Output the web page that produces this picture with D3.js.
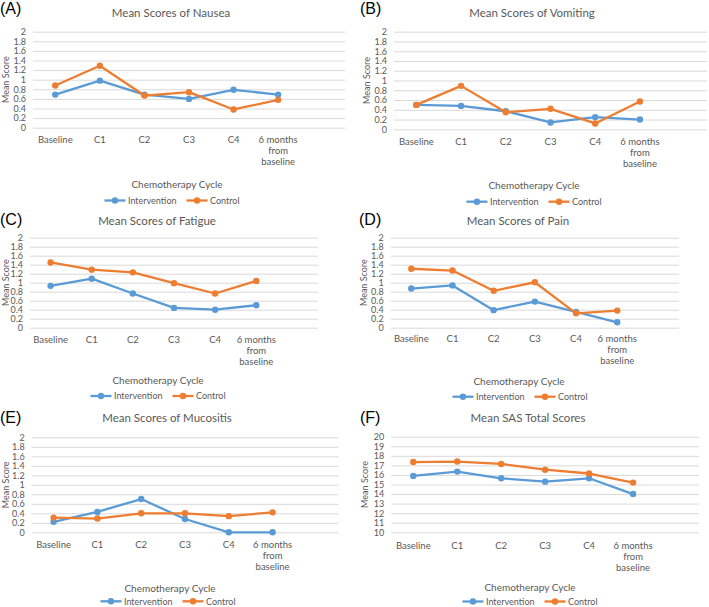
<!DOCTYPE html>
<html>
<head>
<meta charset="utf-8">
<script src="https://cdn.jsdelivr.net/npm/d3@7"></script>
<style>
  html, body { margin: 0; padding: 0; background: #fff; }
  svg { display: block; }
  text { font-family: Lato, "Open Sans", sans-serif; fill: #595959; }
  .plabel { font-family: "Liberation Sans", Arial, sans-serif; fill: #000; }
</style>
</head>
<body>
<svg id="chart" width="709" height="607"></svg>
<script>
// ---------------- DATA ----------------
const categories = ["Baseline", "C1", "C2", "C3", "C4", "6 months from baseline"];
const seriesNames = ["Intervention", "Control"];

const nauseaIntervention   = [0.69, 0.98, 0.69, 0.60, 0.79, 0.69];
const nauseaControl        = [0.88, 1.29, 0.67, 0.74, 0.38, 0.58];

const vomitingIntervention = [0.50, 0.48, 0.37, 0.14, 0.25, 0.20];
const vomitingControl      = [0.50, 0.89, 0.35, 0.42, 0.12, 0.57];

const fatigueIntervention  = [0.93, 1.09, 0.76, 0.44, 0.40, 0.50];
const fatigueControl       = [1.45, 1.29, 1.23, 0.99, 0.76, 1.04];

const painIntervention     = [0.87, 0.94, 0.39, 0.58, 0.35, 0.12];
const painControl          = [1.31, 1.27, 0.82, 1.01, 0.32, 0.38];

const mucositisIntervention = [0.22, 0.43, 0.70, 0.28, 0.00, 0.00];
const mucositisControl      = [0.31, 0.29, 0.40, 0.40, 0.34, 0.42];

const sasIntervention      = [15.9, 16.35, 15.65, 15.3, 15.65, 14.0];
const sasControl           = [17.35, 17.4, 17.15, 16.55, 16.15, 15.2];

const scoreTicks = [0, 0.2, 0.4, 0.6, 0.8, 1, 1.2, 1.4, 1.6, 1.8, 2];
const scoreTickLabels = ["0", "0.2", "0.4", "0.6", "0.8", "1", "1.2", "1.4", "1.6", "1.8", "2"];
const sasTicks = [10, 11, 12, 13, 14, 15, 16, 17, 18, 19, 20];
const sasTickLabels = ["10", "11", "12", "13", "14", "15", "16", "17", "18", "19", "20"];

const panelLetters = ["(A)", "(B)", "(C)", "(D)", "(E)", "(F)"];
const panelTitles = ["Mean Scores of Nausea", "Mean Scores of Vomiting", "Mean Scores of Fatigue",
                     "Mean Scores of Pain", "Mean Scores of Mucositis", "Mean SAS Total Scores"];
const xAxisTitle = "Chemotherapy Cycle";
const yAxisTitle = "Mean Score";

// ---------------- STYLE / LAYOUT ----------------
const colors = ["#5B9BD5", "#ED7D31"];

const layouts = [
  { lx: 0,   ly: 13.5,  x0: 33,    x1: 345, yTop: 31.7,  yBot: 127.7, tx: 171, ty: 13,    cy: 140,   xty: 184,   xtx: 177, lgy: 200.5, lgx: 172 },
  { lx: 360, ly: 13.5,  x0: 394,   x1: 707, yTop: 31.7,  yBot: 129.3, tx: 532, ty: 13,    cy: 142,   xty: 185,   xtx: 534, lgy: 201.7, lgx: 534 },
  { lx: 0,   ly: 224.5, x0: 30,    x1: 318, yTop: 237.7, yBot: 327.7, tx: 157, ty: 220.7, cy: 339.3, xty: 380,   xtx: 158, lgy: 396,   lgx: 158 },
  { lx: 359, ly: 224.5, x0: 390.7, x1: 679, yTop: 237.7, yBot: 327.7, tx: 518, ty: 220.7, cy: 339,   xty: 381.7, xtx: 519, lgy: 396.7, lgx: 520 },
  { lx: 0,   ly: 422.5, x0: 31.7,  x1: 338.3, yTop: 437.3, yBot: 532.3, tx: 167, ty: 418.3, cy: 545, xty: 588.3, xtx: 170, lgy: 601.3, lgx: 168 },
  { lx: 360, ly: 422.5, x0: 391.3, x1: 699, yTop: 436.7, yBot: 532.3, tx: 528, ty: 418.3, cy: 545.7, xty: 587.3, xtx: 530, lgy: 601.5, lgx: 530 }
];

const panels = [
  { series: [nauseaIntervention, nauseaControl], ticks: scoreTicks, tickLabels: scoreTickLabels },
  { series: [vomitingIntervention, vomitingControl], ticks: scoreTicks, tickLabels: scoreTickLabels },
  { series: [fatigueIntervention, fatigueControl], ticks: scoreTicks, tickLabels: scoreTickLabels },
  { series: [painIntervention, painControl], ticks: scoreTicks, tickLabels: scoreTickLabels },
  { series: [mucositisIntervention, mucositisControl], ticks: scoreTicks, tickLabels: scoreTickLabels },
  { series: [sasIntervention, sasControl], ticks: sasTicks, tickLabels: sasTickLabels }
];

const svg = d3.select("#chart");

panels.forEach((p, i) => {
  const L = layouts[i];
  const g = svg.append("g");

  // band scale with an extra empty slot (Excel-like empty space on right)
  const x = d3.scaleBand().domain(categories.concat(["__empty"])).range([L.x0, L.x1]);
  const y = d3.scaleLinear().domain([p.ticks[0], p.ticks[p.ticks.length - 1]]).range([L.yBot, L.yTop]);
  const cx = c => x(c) + x.bandwidth() / 2;

  // panel letter
  g.append("text").attr("class", "plabel")
    .attr("x", L.lx).attr("y", L.ly)
    .style("font-size", "16px").text(panelLetters[i]);

  // title
  g.append("text").attr("x", L.tx).attr("y", L.ty).attr("dy", "0.36em")
    .attr("text-anchor", "middle").style("font-size", "11.5px").text(panelTitles[i]);

  // gridlines + tick labels
  const yAxis = d3.axisLeft(y).tickValues(p.ticks)
    .tickSize(-(L.x1 - L.x0)).tickPadding(7)
    .tickFormat((d, k) => p.tickLabels[k]);
  const ag = g.append("g").attr("transform", `translate(${L.x0},0)`).call(yAxis);
  ag.select(".domain").remove();
  ag.selectAll(".tick line").attr("stroke", "#d9d9d9").attr("stroke-width", 1);
  ag.selectAll(".tick text").style("font-size", "9px").style("font-family", "Lato, sans-serif").attr("fill", "#595959");

  // y axis title
  const ylx = Math.max(L.x0 - 27, 5.5);
  g.append("text")
    .attr("transform", `translate(${ylx},${(L.yTop + L.yBot) / 2}) rotate(-90)`)
    .attr("text-anchor", "middle").attr("dy", "0.36em")
    .style("font-size", "9px").text(yAxisTitle);

  // category labels
  categories.forEach(c => {
    const words = c === "6 months from baseline" ? ["6 months", "from", "baseline"] : [c];
    const t = g.append("text").attr("x", cx(c)).attr("y", L.cy).attr("text-anchor", "middle")
      .style("font-size", "9.5px");
    words.forEach((w, k) => {
      t.append("tspan").attr("x", cx(c)).attr("y", L.cy + k * 11).attr("dy", "0.36em").text(w);
    });
  });

  // x axis title
  g.append("text").attr("x", L.xtx).attr("y", L.xty).attr("dy", "0.36em")
    .attr("text-anchor", "middle").style("font-size", "10px").text(xAxisTitle);

  // series
  const line = d3.line().x((d, k) => cx(categories[k])).y(d => y(d));
  p.series.forEach((vals, s) => {
    g.append("path").datum(vals).attr("d", line)
      .attr("fill", "none").attr("stroke", colors[s]).attr("stroke-width", 2.3)
      .attr("stroke-linejoin", "round");
    g.selectAll(null).data(vals).enter().append("circle")
      .attr("cx", (d, k) => cx(categories[k])).attr("cy", d => y(d))
      .attr("r", 3.2).attr("fill", colors[s]);
  });

  // legend
  const lg = g.append("g");
  let xpos = 0;
  seriesNames.forEach((name, s) => {
    const it = lg.append("g").attr("transform", `translate(${xpos},${L.lgy})`);
    it.append("line").attr("x1", 0).attr("x2", 21).attr("y1", 0).attr("y2", 0)
      .attr("stroke", colors[s]).attr("stroke-width", 2.3);
    it.append("circle").attr("cx", 10.5).attr("cy", 0).attr("r", 3.2).attr("fill", colors[s]);
    const tx = it.append("text").attr("x", 23.5).attr("y", 0).attr("dy", "0.36em")
      .style("font-size", "9px").text(name);
    const w = 23.5 + tx.node().getComputedTextLength();
    xpos += w + 10;
  });
  const total = xpos - 10;
  lg.attr("transform", `translate(${L.lgx - total / 2},0)`);
});
</script>
</body>
</html>
